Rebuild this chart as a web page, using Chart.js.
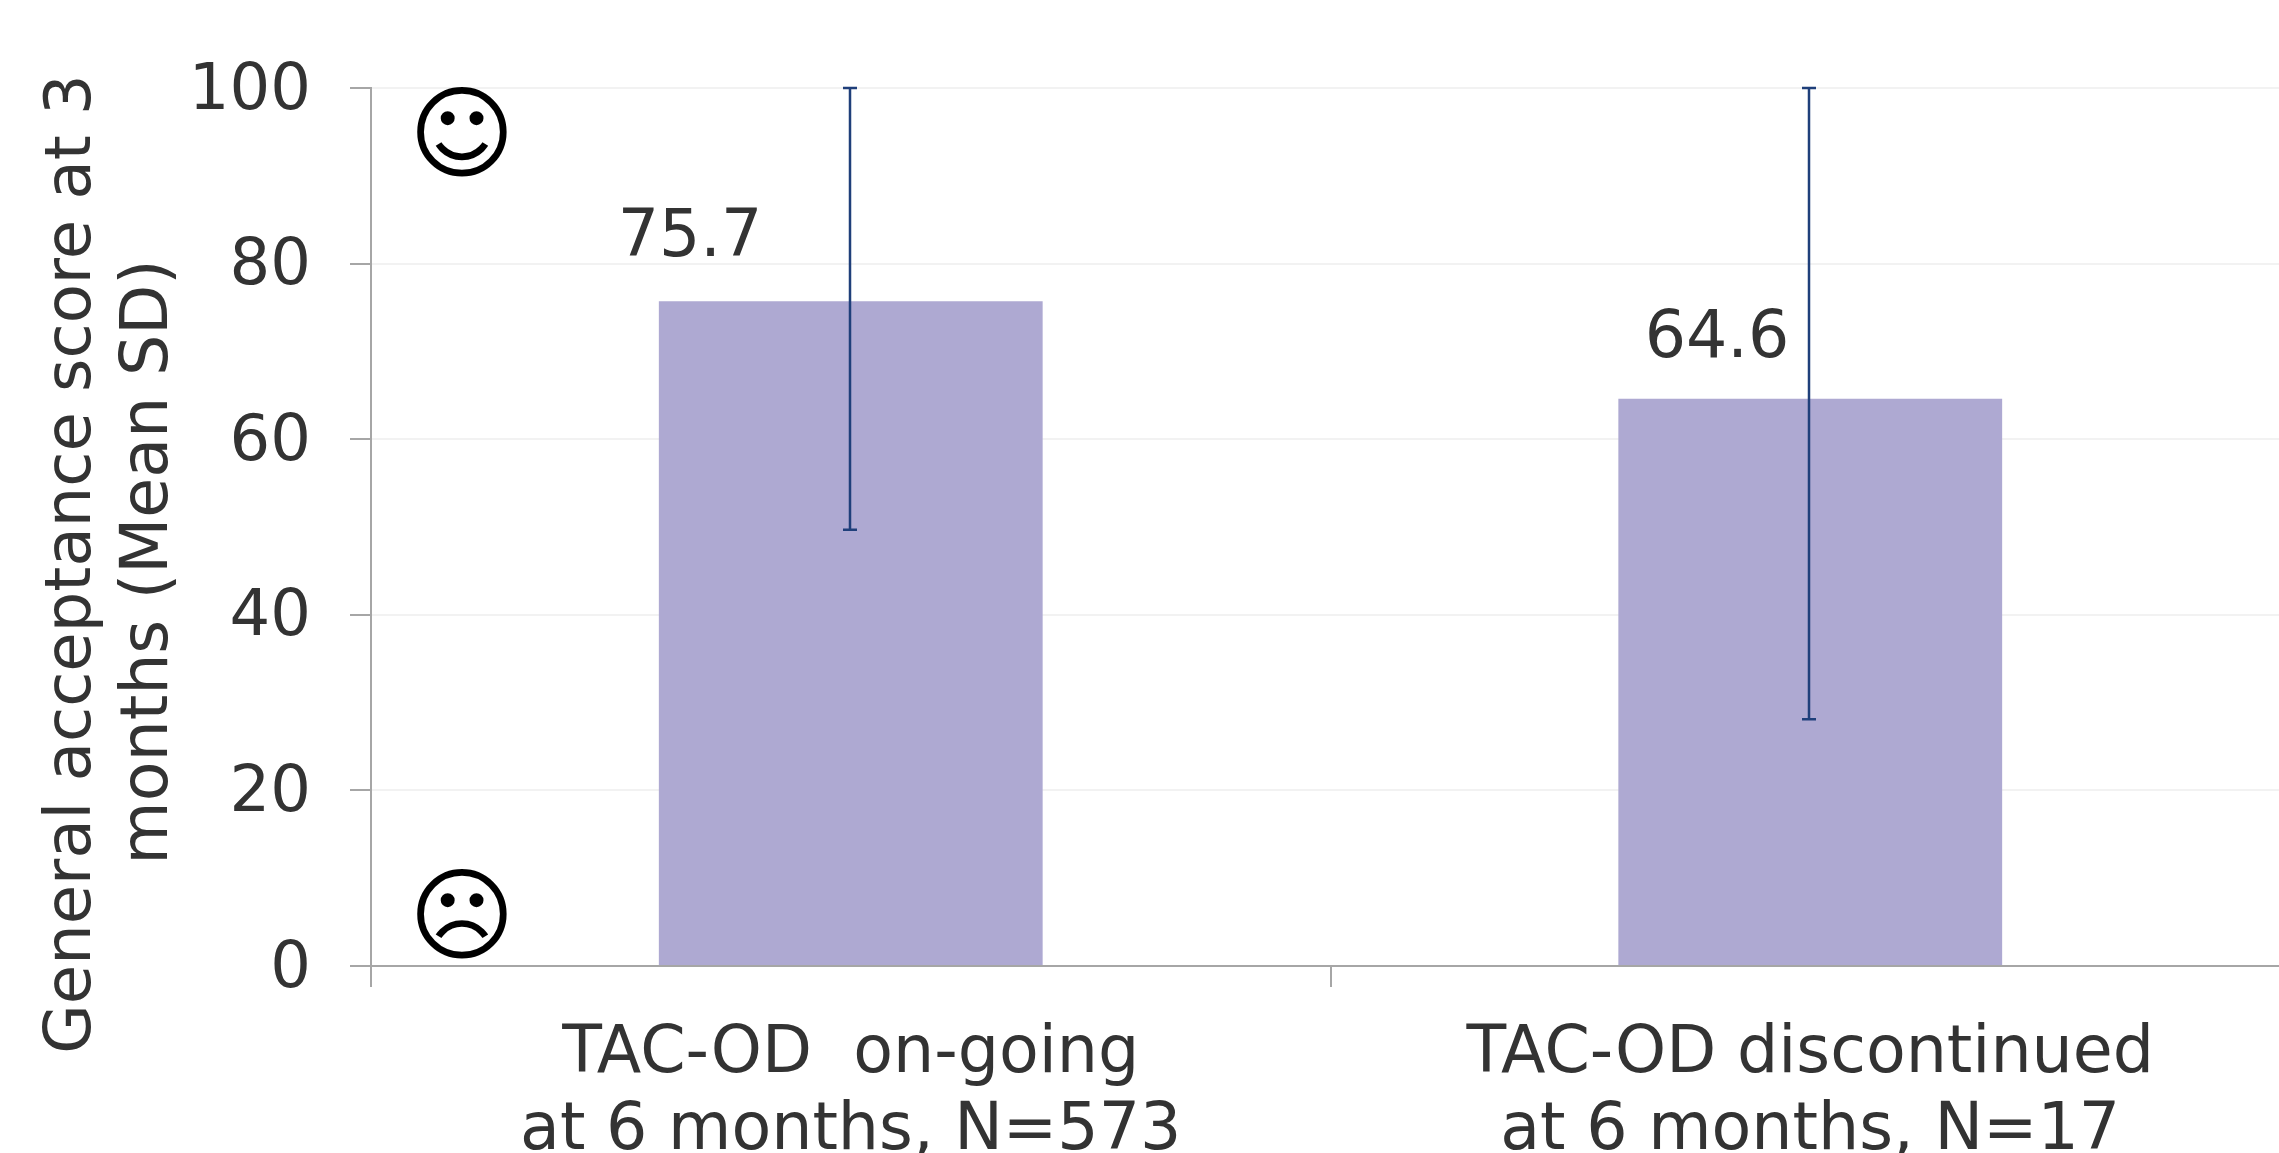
<!DOCTYPE html>
<html>
<head>
<meta charset="utf-8">
<title>General acceptance score</title>
<script src="https://cdn.jsdelivr.net/npm/chart.js@4"></script>
<style>
    html, body { margin: 0; padding: 0; background: #fff; overflow: hidden; }
    canvas { display: block; }
</style>
</head>
<body>
<canvas id="chart" width="2300" height="1200"></canvas>
<script>
// Chart data
const categories = [['TAC-OD  on-going', 'at 6 months, N=573'], ['TAC-OD discontinued', 'at 6 months, N=17']];
const means = [75.7, 64.6];
const errorLow = [49.7, 28.1];
const errorHigh = [100, 100];
const yTicks = [0, 20, 40, 60, 80, 100];
const yTitle = ['General acceptance score at 3', 'months (Mean SD)'];

const TEXT_COLOR = '#333333';
const FONT = '"DejaVu Sans", sans-serif';

// Error bars, value labels, smileys and the axis title
const overlayPlugin = {
    id: 'overlay',
    afterDatasetsDraw(chart) {
        const ctx = chart.ctx;
        const x = chart.scales.x;
        const y = chart.scales.y;
        const labelShift = [-160, -92];
        const labelRaise = [62, 59];

        ctx.save();
        means.forEach((mean, i) => {
            const cx = Math.round(x.getPixelForValue(i)) - 1;
            const top = y.getPixelForValue(errorHigh[i]);
            const bottom = y.getPixelForValue(errorLow[i]);

            ctx.strokeStyle = '#1f3f7a';
            ctx.lineWidth = 2.5;
            ctx.beginPath();
            ctx.moveTo(cx, top);
            ctx.lineTo(cx, bottom);
            ctx.moveTo(cx - 7, top);
            ctx.lineTo(cx + 7, top);
            ctx.moveTo(cx - 7, bottom);
            ctx.lineTo(cx + 7, bottom);
            ctx.stroke();

            ctx.fillStyle = TEXT_COLOR;
            ctx.font = '65px ' + FONT;
            ctx.textAlign = 'center';
            ctx.textBaseline = 'middle';
            ctx.fillText(mean.toFixed(1), cx + labelShift[i], y.getPixelForValue(mean) - labelRaise[i]);
        });

        // Smileys
        ctx.fillStyle = '#000';
        ctx.font = '102px ' + FONT;
        ctx.fillText('\u263A', x.left + 91, y.getPixelForValue(95) + 11);
        ctx.fillText('\u2639', x.left + 91, y.getPixelForValue(6) + 11);

        // Axis title
        ctx.fillStyle = TEXT_COLOR;
        ctx.translate(73, 564);
        ctx.rotate(-Math.PI / 2);
        ctx.font = '64px ' + FONT;
        ctx.fillText(yTitle[0], 0, 0);
        ctx.font = '65px ' + FONT;
        ctx.fillText(yTitle[1], 2, 77);
        ctx.restore();
    }
};

new Chart(document.getElementById('chart'), {
    type: 'bar',
    data: {
        labels: categories,
        datasets: [{
            data: means,
            backgroundColor: '#aea9d2',
            borderWidth: 0,
            barPercentage: 0.4,
            categoryPercentage: 1
        }]
    },
    options: {
        responsive: false,
        animation: false,
        layout: { padding: { top: 88, right: 10 } },
        plugins: {
            legend: { display: false },
            tooltip: { enabled: false }
        },
        scales: {
            x: {
                grid: { color: 'transparent', tickColor: '#a6a6a6', tickLength: 21, lineWidth: 2 },
                border: { color: '#a6a6a6', width: 2 },
                ticks: { color: TEXT_COLOR, font: { size: 65, family: FONT, lineHeight: 1.185 }, padding: 30, maxRotation: 0 },
                afterFit(scale) { scale.height = 234; }
            },
            y: {
                min: 0,
                max: 100,
                afterBuildTicks(scale) { scale.ticks = yTicks.map(v => ({ value: v })); },
                grid: { color: '#f2f2f2', tickColor: '#a6a6a6', tickLength: 21, lineWidth: 2 },
                border: { color: '#a6a6a6', width: 2 },
                // empty first line nudges the digits down onto the tick
                ticks: {
                    color: TEXT_COLOR,
                    font: { size: 64, family: FONT, lineHeight: 0.125 },
                    padding: 39,
                    callback: v => ['', String(v)]
                },
                afterFit(scale) { scale.width = 371; }
            }
        }
    },
    plugins: [overlayPlugin]
});
</script>
</body>
</html>
